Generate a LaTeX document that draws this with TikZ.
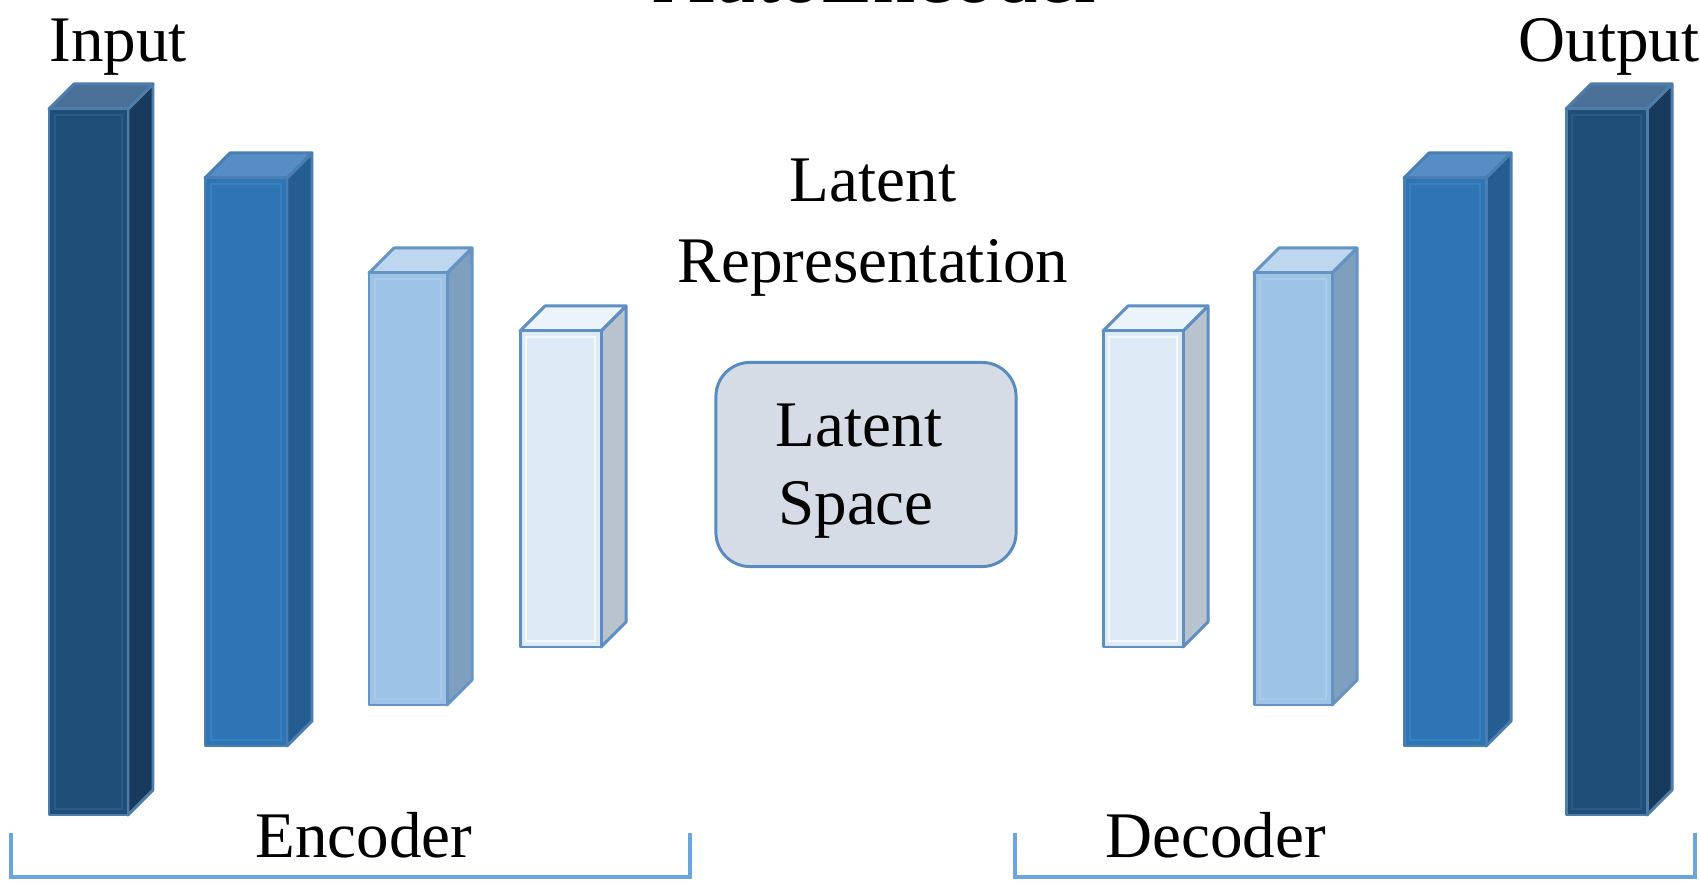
\documentclass[tikz,border=0pt]{standalone}
\usepackage{fontspec}
\setmainfont{Liberation Serif}

% colour sets: F front, S side, T top, B border, H inner highlight
\definecolor{navyF}{HTML}{1F4E79}
\definecolor{navyS}{HTML}{183A5C}
\definecolor{navyT}{HTML}{4A7098}
\definecolor{navyB}{HTML}{4F7DAA}
\definecolor{navyH}{HTML}{2B5B89}
\definecolor{midF}{HTML}{2E75B6}
\definecolor{midS}{HTML}{245D92}
\definecolor{midT}{HTML}{568DC4}
\definecolor{midB}{HTML}{4A7DB0}
\definecolor{midH}{HTML}{3A7FBE}
\definecolor{liteF}{HTML}{9DC3E6}
\definecolor{liteS}{HTML}{7F9FBF}
\definecolor{liteT}{HTML}{BDD7EE}
\definecolor{liteB}{HTML}{6593C3}
\definecolor{liteH}{HTML}{A9CBEA}
\definecolor{paleF}{HTML}{DEEBF7}
\definecolor{paleS}{HTML}{B8C3CE}
\definecolor{paleT}{HTML}{EBF3FB}
\definecolor{paleB}{HTML}{5F8FC2}
\definecolor{paleH}{HTML}{F2F7FC}
\definecolor{latFill}{HTML}{D6DCE5}
\definecolor{latEdge}{HTML}{5A8BBE}
\definecolor{brace}{HTML}{6AA5DD}

\newcommand\dep{25}
% one cuboid: #1 left, #2 right, #3 top, #4 bottom (front face), #5 colour set
\newcommand\drawblock[5]{%
  \filldraw[blk, fill=#5S, draw=#5B] (#2,#3) -- (#2+\dep,#3-\dep) -- (#2+\dep,#4-\dep) -- (#2,#4) -- cycle;
  \filldraw[blk, fill=#5T, draw=#5B] (#1,#3) -- (#1+\dep,#3-\dep) -- (#2+\dep,#3-\dep) -- (#2,#3) -- cycle;
  \filldraw[blk, fill=#5F, draw=#5B] (#1,#3) rectangle (#2,#4);
  \draw[#5H, line width=0.6pt] (#1+6,#3+6) rectangle (#2-6,#4-6);
}

\begin{document}
\begin{tikzpicture}[x=0.01cm, y=-0.01cm,
  blk/.style={line width=0.85pt, line join=round},
  lbl/.style={font=\fontsize{18.5}{22}\selectfont, inner sep=0pt, text=black},
  ttl/.style={font=\fontsize{24}{28}\selectfont, inner sep=0pt, text=black},
  lsbox/.style={draw=latEdge, fill=latFill, line width=0.85pt, rounded corners=0.34cm,
    minimum width=3.0cm, minimum height=2.04cm, inner sep=0pt},
  bracket/.style={draw=brace, line width=1.15pt, line join=miter}]

\useasboundingbox (0,0) rectangle (1700,883);

% heading (runs past the top edge)
\node[ttl, anchor=base] (title) at (878,3) {AutoEncoder};

% encoder stack
\drawblock{49}{128}{109}{815}{navy}
\drawblock{205}{287}{178}{746}{mid}
\drawblock{369}{447}{273}{705}{lite}
\drawblock{520}{601}{331}{647}{pale}

% decoder stack
\drawblock{1103}{1183}{331}{647}{pale}
\drawblock{1254}{1332}{273}{705}{lite}
\drawblock{1404}{1486}{178}{746}{mid}
\drawblock{1566}{1647}{109}{815}{navy}

% latent space
\node[lsbox] (ls) at (866,464.5) {};
\node[lbl, anchor=base] (ls1) at (859,447) {Latent};
\node[lbl, anchor=base] (ls2) at (856,525) {Space};

\node[lbl, anchor=base] (lr1) at (873,202) {Latent};
\node[lbl, anchor=base] (lr2) at (873,283) {Representation};

% end labels
\node[lbl, anchor=base west] (inp) at (49,62) {Input};
\node[lbl, anchor=base west] (outp) at (1518,62) {Output};

% brackets
\coordinate (e1) at (11,833);
\coordinate (e2) at (11,877);
\coordinate (e3) at (690,877);
\coordinate (e4) at (690,833);
\draw[bracket] (e1) -- (e2) -- (e3) -- (e4);
\node[lbl, anchor=base west] (enc) at (255,858) {Encoder};

\coordinate (d1) at (1015,833);
\coordinate (d2) at (1015,877);
\coordinate (d3) at (1695,877);
\coordinate (d4) at (1695,833);
\draw[bracket] (d1) -- (d2) -- (d3) -- (d4);
\node[lbl, anchor=base west] (dec) at (1105,858) {Decoder};

\end{tikzpicture}
\end{document}
